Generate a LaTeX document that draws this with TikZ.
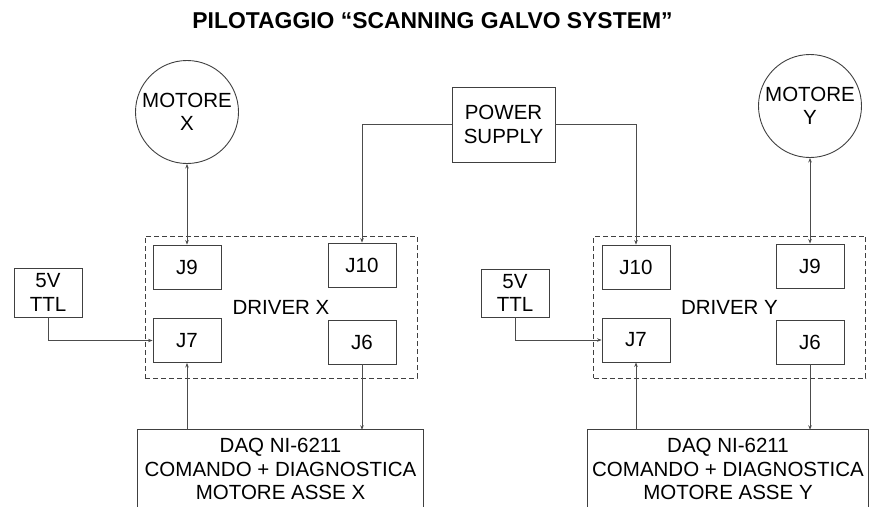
\documentclass[tikz,border=0pt]{standalone}
\usepackage{fontspec}
\setmainfont{Liberation Sans}
\usetikzlibrary{arrows.meta}

\begin{document}
\begin{tikzpicture}[x=1pt,y=-1pt,
    >={Stealth[length=4.5pt,width=3.5pt]},
    txt/.style={font=\fontsize{20.5}{23.5}\selectfont,align=center,inner sep=0pt},
    blk/.style={txt,draw=black!75,line width=0.9pt},
    jbox/.style={blk,minimum width=68pt,minimum height=44pt},
    motor/.style={blk,circle,minimum size=103pt},
    drv/.style={txt,draw=black!75,line width=0.8pt,dash pattern=on 5pt off 3pt,minimum width=272pt,minimum height=142pt},
    conn/.style={draw=black!70,line width=0.7pt}]
  \useasboundingbox (0,0) rectangle (870,506);
  \node[font=\bfseries\fontsize{22.9}{26}\selectfont,inner sep=0pt] (title) at (432.5,21) {PILOTAGGIO “SCANNING GALVO SYSTEM”};
  % motori e alimentazione
  \node[motor] (motX) at (187,112) {MOTORE\\X};
  \node[motor] (motY) at (810,106) {MOTORE\\Y};
  \node[blk,minimum width=103pt,minimum height=75pt] (psu) at (503.5,124.5) {POWER\\SUPPLY};
  % driver
  \node[drv] (drvX) at (281,307) {DRIVER X};
  \node[drv] (drvY) at (729.5,307) {DRIVER Y};
  \foreach \n/\l/\x/\y in {J9X/J9/187/267, J10X/J10/362/265, J7X/J7/187/340.5, J6X/J6/362/342, J10Y/J10/636/267, J9Y/J9/810/266, J7Y/J7/636/340, J6Y/J6/810/342}{
    \node[jbox] (\n) at (\x,\y) {\l};}
  \node[blk,minimum width=68pt,minimum height=49pt] (ttlX) at (48,292.5) {5V\\TTL};
  \node[blk,minimum width=68pt,minimum height=48pt] (ttlY) at (515,293) {5V\\TTL};
  % schede DAQ (tagliate in basso)
  \node[txt,minimum width=285pt,minimum height=78pt] (daqX) at (280.5,469) {DAQ NI-6211\\COMANDO + DIAGNOSTICA\\MOTORE ASSE X};
  \node[txt,minimum width=280pt,minimum height=78pt] (daqY) at (728,469) {DAQ NI-6211\\COMANDO + DIAGNOSTICA\\MOTORE ASSE Y};
  \foreach \d in {daqX,daqY}{
    \draw[draw=black!75,line width=0.9pt] (\d.south west) -- (\d.north west) -- (\d.north east) -- (\d.south east);}
  % collegamenti
  \draw[conn,<->] (motX.south) -- (J9X.north);
  \draw[conn,<->] (motY.south) -- (J9Y.north);
  \draw[conn,->] (psu.west) -| (J10X.north);
  \draw[conn,->] (psu.east) -| (J10Y.north);
  \draw[conn,->] (ttlX.south) |- (J7X.west);
  \draw[conn,->] (ttlY.south) |- (J7Y.west);
  \foreach \s in {X,Y}{
    \draw[conn,->] (J7\s.south |- daq\s.north) -- (J7\s.south);
    \draw[conn,->] (J6\s.south) -- (J6\s.south |- daq\s.north);}
\end{tikzpicture}
\end{document}
